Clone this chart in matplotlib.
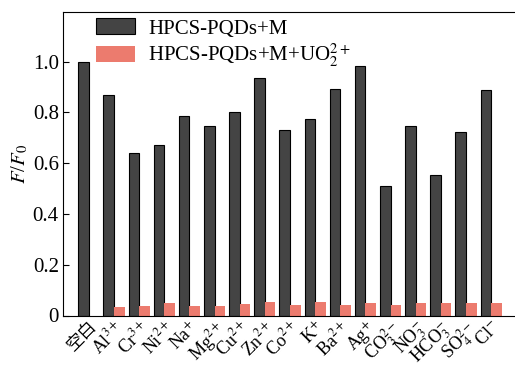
import numpy as np
import matplotlib
matplotlib.use('Agg')
import matplotlib.pyplot as plt

plt.rcParams['font.family'] = ['Liberation Serif', 'Noto Sans CJK SC']
plt.rcParams['mathtext.fontset'] = 'stix'

ions = ['空白', 'Al$^{3+}$', 'Cr$^{3+}$', 'Ni$^{2+}$', 'Na$^{+}$', 'Mg$^{2+}$',
        'Cu$^{2+}$', 'Zn$^{2+}$', 'Co$^{2+}$', 'K$^{+}$', 'Ba$^{2+}$', 'Ag$^{+}$',
        'CO$_3^{2-}$', 'NO$_3^{-}$', 'HCO$_3^{-}$', 'SO$_4^{2-}$', 'Cl$^{-}$']
with_m = [1.0, 0.869, 0.64, 0.67, 0.785, 0.748, 0.803, 0.934, 0.73, 0.775,
          0.89, 0.983, 0.51, 0.748, 0.552, 0.724, 0.889]
with_u = [0.0, 0.034, 0.039, 0.051, 0.039, 0.039, 0.047, 0.054, 0.042, 0.054,
          0.042, 0.051, 0.042, 0.051, 0.051, 0.048, 0.048]

x = np.arange(len(ions))
w = 0.42

fig = plt.figure(figsize=(5.15, 3.67), dpi=100)
ax = fig.add_axes([63/515, 1 - 315.5/367, 1 - 63/515, (315.5 - 12)/367])

ax.bar(x - w/2, with_m, w, color='#444444', edgecolor='black', linewidth=0.8,
       label='HPCS-PQDs+M')
ax.bar(x + w/2, with_u, w, color='#ec7b6e', linewidth=0,
       label='HPCS-PQDs+M+UO$_2^{2+}$')

ax.set_xlim(-1.03, 16.95)
ax.set_ylim(0, 1.195)
ax.set_yticks([0, 0.2, 0.4, 0.6, 0.8, 1.0])
ax.set_yticklabels(['0', '0.2', '0.4', '0.6', '0.8', '1.0'])
ax.set_xticks(x)
ax.set_xticklabels(ions, rotation=45, ha='right', rotation_mode='anchor')
ax.tick_params(axis='y', direction='in', length=4, labelsize=15, pad=3)
ax.tick_params(axis='x', length=0, labelsize=13, pad=2)
for lab in ax.get_xticklabels()[:1]:
    lab.set_fontsize(12.5)
ax.spines['right'].set_visible(False)
ax.set_ylabel('$F$/$F_0$', fontsize=15, labelpad=2)

ax.legend(loc='upper left', frameon=False, fontsize=15, handlelength=1.9,
          handleheight=0.8, borderaxespad=0.2, labelspacing=0.15,
          handletextpad=0.6, bbox_to_anchor=(0.045, 1.02))

fig.savefig('out.png', dpi=100)
